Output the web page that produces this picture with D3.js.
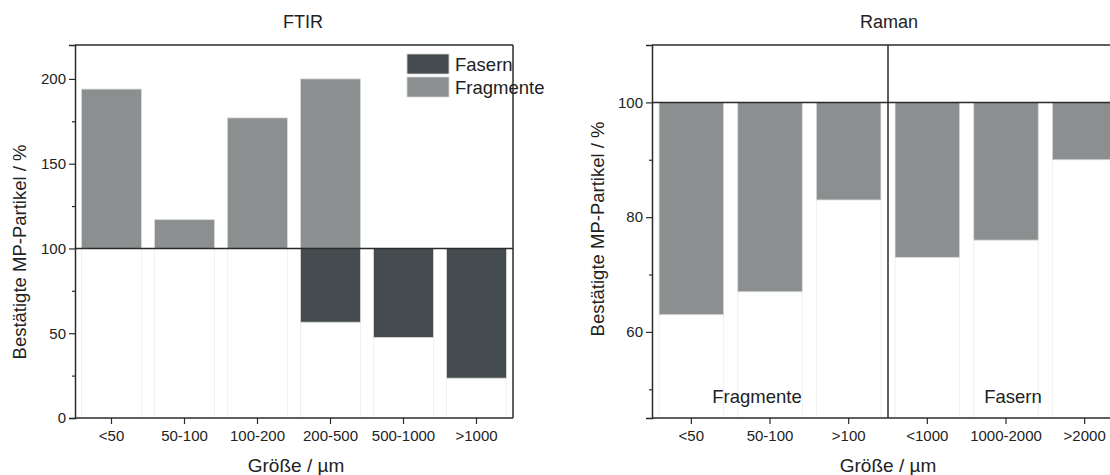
<!DOCTYPE html>
<html><head><meta charset="utf-8">
<script src="https://cdn.jsdelivr.net/npm/d3@7"></script>
<style>body{margin:0;background:#fff}svg{display:block;font-family:"Liberation Sans",Arial,sans-serif}</style>
</head><body><svg id="c" width="1110" height="475"></svg>
<script>
// FTIR panel
const ftirCats = ["<50","50-100","100-200","200-500","500-1000",">1000"];
const ftirFrag = [194, 117, 177, 200, null, null];
const ftirFas  = [null, null, null, 56.5, 47.5, 23.5];
const ftirYTicks = [0,50,100,150,200];
const ftirYMinor = [25,75,125,175];
// Raman panel
const ramanCats = ["<50","50-100",">100","<1000","1000-2000",">2000"];
const ramanVals = [63, 67, 83, 73, 76, 90];
const ramanYTicks = [60,80,100];
const ramanYMinor = [50,70,90];
const ramanGroups = ["Fragmente","Fasern"];
const legendItems = ["Fasern","Fragmente"];

const colFrag = "#8c8f8f", colFas = "#454c4f", axCol = "#2b2b2b", txt = "#222";
const svg = d3.select("#c");

function panel(o){
  const g = svg.append("g");
  const x = d3.scaleBand().domain(o.cats).range([o.x0, o.x1]).paddingInner(0.18).paddingOuter(0.09);
  const y = d3.scaleLinear().domain(o.dom).range([o.y1, o.y0]);
  // faint drop lines
  o.bars.forEach(b=>{
    const xl = x(b.cat), xr = xl + x.bandwidth();
    const yEnd = y(Math.min(b.v,100));
    [xl,xr].forEach(xx=>g.append("line").attr("x1",xx).attr("x2",xx).attr("y1",yEnd).attr("y2",o.y1)
      .attr("stroke","#ececec").attr("stroke-width",0.8));
  });
  // bars
  g.selectAll("rect.bar").data(o.bars).join("rect").attr("class","bar")
    .attr("x",d=>x(d.cat)).attr("width",x.bandwidth())
    .attr("y",d=>y(Math.max(d.v,100))).attr("height",d=>Math.abs(y(d.v)-y(100)))
    .attr("fill",d=>d.col).attr("stroke","#d8d8d8").attr("stroke-width",0.8);
  // baseline 100
  g.append("line").attr("x1",o.x0).attr("x2",o.clipR).attr("y1",y(100)).attr("y2",y(100)).attr("stroke",axCol).attr("stroke-width",1.5);
  // frame
  g.append("line").attr("x1",o.x0).attr("x2",o.clipR).attr("y1",o.y0).attr("y2",o.y0).attr("stroke",axCol).attr("stroke-width",1.5);
  if(o.rightBorder) g.append("line").attr("x1",o.x1).attr("x2",o.x1).attr("y1",o.y0).attr("y2",o.y1).attr("stroke",axCol).attr("stroke-width",1.5);
  // y axis
  const ya = d3.axisLeft(y).tickValues(o.yTicks).tickSize(6).tickPadding(3).tickFormat(d3.format("d"));
  const yg = g.append("g").attr("transform",`translate(${o.x0},0)`).call(ya);
  yg.select(".domain").attr("stroke",axCol).attr("stroke-width",1.5);
  yg.selectAll(".tick line").attr("stroke",axCol).attr("stroke-width",1.2);
  yg.selectAll("text").attr("font-size",15).attr("fill",txt);
  const ym = d3.axisLeft(y).tickValues(o.minor).tickSize(3).tickFormat("");
  const ymg = g.append("g").attr("transform",`translate(${o.x0},0)`).call(ym);
  ymg.select(".domain").remove();
  ymg.selectAll(".tick line").attr("stroke",axCol).attr("stroke-width",1.2);
  // x axis
  const xa = d3.axisBottom(x).tickSize(6).tickPadding(6).tickSizeOuter(0);
  const xg = g.append("g").attr("transform",`translate(0,${o.y1})`).call(xa);
  xg.select(".domain").attr("d",`M${o.x0},0H${o.clipR}`).attr("stroke",axCol).attr("stroke-width",1.5);
  xg.selectAll(".tick line").attr("stroke",axCol).attr("stroke-width",1.2);
  xg.selectAll("text").attr("font-size",15).attr("fill",txt);
  // titles
  g.append("text").attr("x",o.titleX).attr("y",28).attr("text-anchor","middle").attr("font-size",18).attr("fill",txt).text(o.title);
  g.append("text").attr("x",o.xlabX).attr("y",472).attr("text-anchor","middle").attr("font-size",19).attr("fill",txt).text("Größe / µm");
  g.append("text").attr("transform",`translate(${o.ylabX},${o.ylabY}) rotate(-90)`).attr("text-anchor","middle")
    .attr("font-size",18.5).attr("fill",txt).text("Bestätigte MP-Partikel / %");
  return {g,x,y};
}

// FTIR
const ftirBars = [];
ftirCats.forEach((c,i)=>{
  if(ftirFrag[i]!=null) ftirBars.push({cat:c,v:ftirFrag[i],col:colFrag});
  if(ftirFas[i]!=null) ftirBars.push({cat:c,v:ftirFas[i],col:colFas});
});
const p1 = panel({cats:ftirCats,x0:75,x1:513,clipR:513,y0:45,y1:418,dom:[0,220],yTicks:ftirYTicks,
  minor:ftirYMinor,bars:ftirBars,title:"FTIR",titleX:303,xlabX:296,ylabX:26,ylabY:252,rightBorder:true});
// legend
const leg = p1.g.append("g");
const legCol = {Fasern:colFas, Fragmente:colFrag};
legendItems.forEach((d,i)=>{
  leg.append("rect").attr("x",407).attr("y",54+i*23).attr("width",42).attr("height",20).attr("fill",legCol[d]).attr("stroke","#d8d8d8").attr("stroke-width",0.8);
  leg.append("text").attr("x",455).attr("y",71+i*23).attr("font-size",18.5).attr("fill",txt).text(d);
});

// Raman
const ramanBars = ramanCats.map((c,i)=>({cat:c,v:ramanVals[i],col:colFrag}));
const p2 = panel({cats:ramanCats,x0:652,x1:1124,clipR:1110,y0:45,y1:418,dom:[45,110],yTicks:ramanYTicks,
  minor:ramanYMinor,bars:ramanBars,title:"Raman",titleX:889,xlabX:888,ylabX:604,ylabY:229,rightBorder:false});
const divX = p2.x(ramanCats[3]) - p2.x.step()*p2.x.paddingInner()/2;
p2.g.append("line").attr("x1",divX).attr("x2",divX).attr("y1",45).attr("y2",418).attr("stroke",axCol).attr("stroke-width",1.5);
const grpX = [757, 1013];
ramanGroups.forEach((t,i)=>{
  p2.g.append("text").attr("x", grpX[i]).attr("y",403).attr("text-anchor","middle").attr("font-size",18.5).attr("fill",txt).text(t);
});
</script></body></html>
